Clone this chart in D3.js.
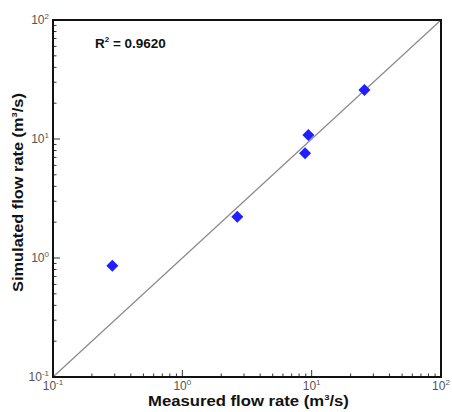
<!DOCTYPE html>
<html>
<head>
<meta charset="utf-8">
<script src="https://cdn.jsdelivr.net/npm/d3@7"></script>
<style>
  body { margin: 0; background: #fff; }
  svg text { font-family: "Liberation Sans", Arial, sans-serif; }
</style>
</head>
<body>
<svg id="chart" width="452" height="412"></svg>
<script>
// Measured vs simulated flow rates (m3/s)
const measured = [0.2875, 2.66, 8.89, 9.43, 25.6];
const simulated = [0.86, 2.22, 7.58, 10.8, 25.8];
const domain = [0.1, 100];
const majorTicks = [0.1, 1, 10, 100];
const tickExponents = ['-1', '0', '1', '2'];
const r2Label = '0.9620';

const svg = d3.select('#chart');
const margin = { left: 53, top: 20, right: 11, bottom: 35 };
const width = 452 - margin.left - margin.right;
const height = 412 - margin.top - margin.bottom;
const bottom = margin.top + height;

const x = d3.scaleLog().domain(domain).range([margin.left, margin.left + width]);
const y = d3.scaleLog().domain(domain).range([bottom, margin.top]);

// Minor ticks (2..9 per decade)
const minorTicks = [];
majorTicks.slice(0, -1).forEach(d => {
  for (let k = 2; k < 10; k++) minorTicks.push(d * k);
});
const allTicks = majorTicks.map(v => ({ v, len: 7 }))
  .concat(minorTicks.map(v => ({ v, len: 3.5 })));

const g = svg.append('g');

// 1:1 line
g.append('line')
  .attr('x1', x(domain[0])).attr('y1', y(domain[0]))
  .attr('x2', x(domain[1])).attr('y2', y(domain[1]))
  .attr('stroke', '#8a8a8a')
  .attr('stroke-width', 1.2);

// Inward ticks on bottom and left
g.append('g').selectAll('line')
  .data(allTicks)
  .join('line')
  .attr('x1', d => x(d.v)).attr('x2', d => x(d.v))
  .attr('y1', bottom).attr('y2', d => bottom - d.len)
  .attr('stroke', '#333').attr('stroke-width', 1);

g.append('g').selectAll('line')
  .data(allTicks)
  .join('line')
  .attr('y1', d => y(d.v)).attr('y2', d => y(d.v))
  .attr('x1', margin.left).attr('x2', d => margin.left + d.len)
  .attr('stroke', '#333').attr('stroke-width', 1);

// Frame
g.append('rect')
  .attr('x', margin.left).attr('y', margin.top)
  .attr('width', width).attr('height', height)
  .attr('fill', 'none')
  .attr('stroke', '#111')
  .attr('stroke-width', 2);

// Tick labels with superscript exponents
majorTicks.forEach((v, i) => {
  const tx = g.append('text')
    .attr('x', x(v))
    .attr('y', bottom + 13)
    .attr('text-anchor', 'middle')
    .attr('fill', '#555')
    .attr('font-size', 12);
  tx.append('tspan').text('10');
  tx.append('tspan').attr('font-size', 8).attr('dy', -5).text(tickExponents[i]);

  const ty = g.append('text')
    .attr('x', margin.left - 4)
    .attr('y', y(v) + 4)
    .attr('text-anchor', 'end')
    .attr('fill', '#555')
    .attr('font-size', 12);
  ty.append('tspan').text('10');
  ty.append('tspan').attr('font-size', 8).attr('dy', -5).text(tickExponents[i]);
});

// Points (diamonds)
const diamond = d3.symbol().type(d3.symbolSquare).size(72);
g.append('g')
  .selectAll('path')
  .data(measured.map((m, i) => ({ m, s: simulated[i] })))
  .join('path')
  .attr('d', diamond)
  .attr('transform', d => `translate(${x(d.m)},${y(d.s)}) rotate(45)`)
  .attr('fill', '#1f1fff');

// R2 annotation
const r2 = g.append('text')
  .attr('x', 95).attr('y', 48)
  .attr('font-size', 13.5)
  .attr('font-weight', 'bold')
  .attr('fill', '#111');
r2.append('tspan').text('R');
r2.append('tspan').attr('font-size', 8).attr('dy', -6).text('2');
r2.append('tspan').attr('dy', 6).text(' = ' + r2Label);

// Axis titles (stretched horizontally to match the original lettering)
function title(sel, label, len) {
  sel.attr('font-size', 14)
    .attr('font-weight', 'bold')
    .attr('fill', '#111')
    .attr('text-anchor', 'middle');
  sel.append('tspan').text(label + ' (m');
  sel.append('tspan').attr('font-size', 8).attr('dy', -6).text('3');
  sel.append('tspan').attr('dy', 6).text('/s)');
  const w = sel.node().getComputedTextLength();
  return len / w;
}

const xt = g.append('text');
const sx = title(xt, 'Measured flow rate', 201);
xt.attr('transform', `translate(248.5,406) scale(${sx},1)`);

const yt = g.append('text');
const sy = title(yt, 'Simulated flow rate', 199);
yt.attr('transform', `translate(23,192.5) rotate(-90) scale(${sy},1)`);
</script>
</body>
</html>
